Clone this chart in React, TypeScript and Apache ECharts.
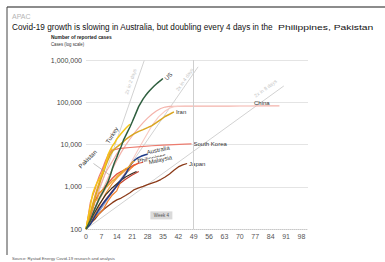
import React, { useEffect, useRef } from "react";
import * as echarts from "echarts";

const FONT = "'Liberation Sans', Arial, sans-serif";

const xTicks = [0, 7, 14, 21, 28, 35, 42, 49, 56, 63, 70, 77, 84, 91, 98];
const yTicks = [100, 1000, 10000, 100000, 1000000];

const usData = [[0,100],[2,160],[4,300],[6,520],[8,800],[10,1300],[11,1800],[12,2700],[13,3800],[14,5000],[15,6800],[16,9000],[17,12500],[18,16000],[19,20500],[20,26000],[21,34000],[22,45000],[23,60000],[24,80000],[25,98000],[26,120000],[27,142000],[28,165000],[29,190000],[30,215000],[31,242000],[32,270000],[33,300000],[34,330000],[35,366000]];
const iranData = [[0,100],[1,150],[2,230],[3,350],[4,520],[5,780],[6,1100],[7,1600],[8,2200],[9,3200],[10,4300],[11,5600],[12,6800],[13,7800],[14,8700],[16,10500],[18,13000],[20,15500],[22,18000],[24,20500],[26,22500],[28,25000],[30,28000],[32,33000],[34,39000],[36,46000],[38,52000],[40,59000]];
const turkeyData = [[0,98],[1,191],[2,359],[3,670],[4,947],[5,1236],[6,1529],[7,1872],[8,2433],[9,3629],[10,5698],[11,7402],[12,9217],[13,10827],[14,13531],[15,15679],[16,18135],[17,20921],[18,23934],[19,27069],[20,30217]];
const pakistanData = [[0,100],[1,187],[2,241],[3,299],[4,454],[5,501],[6,730],[7,776],[8,875],[9,972],[10,1063],[11,1201],[12,1373],[13,1495],[14,1717],[15,1938],[16,2118],[17,2421],[18,2686],[19,2818],[20,3157],[21,3766],[22,4035]];
const chinaData = [[0,100],[2,180],[4,320],[6,560],[8,950],[10,1600],[12,2600],[14,4200],[16,6500],[18,9500],[20,13500],[22,18500],[24,25000],[26,33000],[28,42000],[30,52000],[32,62000],[34,71000],[36,77000],[38,79500],[40,80500],[45,81000],[50,81100],[55,81200],[60,81300],[65,81400],[70,81500],[75,81600],[80,81800],[88,82000]];
const pinkData = [[0,100],[3,160],[6,260],[9,420],[12,700],[15,1200],[18,2200],[21,4200],[24,8000],[27,15000],[30,28000],[33,45000],[36,62000],[38,72000],[40,78000],[42,80000]];
const koreaData = [[0,100],[1,204],[2,433],[3,602],[4,833],[5,1261],[6,1766],[7,2337],[8,3150],[9,4300],[10,5600],[11,6600],[12,7300],[13,7500],[14,7800],[15,8000],[17,8200],[20,8500],[25,8950],[30,9330],[35,9660],[40,9980],[45,10240],[48,10330]];
const japanData = [[0,100],[2,135],[4,170],[6,230],[8,290],[10,350],[12,420],[14,490],[16,540],[18,620],[20,720],[22,860],[24,940],[26,1020],[28,1120],[30,1220],[32,1320],[34,1480],[36,1700],[38,2000],[40,2450],[42,2950],[44,3300],[46,3550]];
const australiaData = [[0,100],[2,130],[4,200],[6,300],[8,420],[10,560],[12,760],[14,1050],[16,1450],[18,2000],[19,2500],[20,3100],[21,3700],[22,4200],[23,4600],[24,4950],[25,5250],[26,5500],[27,5700],[28,5900]];
const philippinesData = [[0,100],[2,140],[4,190],[6,230],[8,300],[10,460],[12,640],[14,800],[16,1400],[18,2100],[20,2600],[22,3200],[24,3700]];
const malaysiaData = [[0,100],[2,200],[4,450],[6,700],[8,900],[10,1200],[12,1600],[14,2000],[16,2300],[18,2600],[20,2900],[22,3300],[24,3600],[26,3800]];
const other1Data = [[0,100],[3,200],[6,380],[9,650],[12,950],[15,1300],[18,1700],[21,2050],[23,2300]];
const other2Data = [[0,100],[3,180],[6,300],[9,500],[12,800],[15,1150],[18,1500],[21,1900],[24,2300]];
const other3Data = [[0,100],[3,170],[6,350],[9,700],[12,1200],[15,1800],[18,2500],[21,3000],[22,3300]];
const other4Data = [[0,100],[3,300],[6,900],[9,2200],[12,4000],[14,6000],[16,8500]];
const other5Data = [[0,100],[3,220],[6,480],[9,900],[12,1500],[14,1900],[16,2300]];
const other6Data = [[0,100],[3,160],[6,260],[9,450],[12,750],[15,1300],[18,2000],[20,2600]];
const other7Data = [[0,100],[2,250],[4,600],[6,1300],[8,2800],[10,5000],[12,8000]];

const double2Data = [[0,100],[26.5,974000]];
const double4Data = [[0,100],[51,690000]];
const double8Data = [[0,100],[90,243000]];

function tag(text: string, coord: number[], rotate: number, extra: any = {}) {
  return {
    coord,
    symbol: "circle",
    symbolSize: 1,
    itemStyle: { color: "rgba(0,0,0,0)" },
    label: {
      show: true,
      formatter: text,
      position: "inside",
      rotate,
      fontSize: 6,
      color: "#333",
      fontFamily: FONT,
      ...extra,
    },
  };
}

function line(name: string, data: number[][], color: string, width: number, extra: any = {}) {
  return {
    name,
    type: "line",
    data,
    symbol: "none",
    showSymbol: false,
    silent: true,
    lineStyle: { color, width },
    itemStyle: { color },
    ...extra,
  };
}

function endLabel(text: string) {
  return {
    endLabel: { show: true, formatter: text, fontSize: 6, color: "#333", fontFamily: FONT, distance: 2 },
  };
}

export default function App() {
  const ref = useRef<HTMLDivElement>(null);
  useEffect(() => {
    const chart = echarts.init(ref.current!, null, { renderer: "svg" });
    const refStyle = "#d2d2d2";
    const refLabel = { color: "#c4c4c4", fontSize: 5 };
    chart.setOption({
      animation: false,
      backgroundColor: "#fff",
      grid: { left: 86, right: 77, top: 60, bottom: 33 },
      xAxis: {
        type: "value",
        min: 0,
        max: 101,
        interval: 7,
        axisLine: { show: true, lineStyle: { color: "#c8c8c8", type: "dotted", width: 1 } },
        axisTick: { show: false },
        splitLine: { show: false },
        axisLabel: {
          fontSize: 7,
          color: "#555",
          fontFamily: FONT,
          margin: 4,
          formatter: (v: number) => (xTicks.includes(v) ? String(v) : ""),
        },
      },
      yAxis: {
        type: "log",
        logBase: 10,
        min: yTicks[0],
        max: yTicks[yTicks.length - 1],
        axisLine: { show: false },
        axisTick: { show: false },
        splitLine: { show: true, showMinLine: false, lineStyle: { color: "#e4e4e4", width: 1 } },
        axisLabel: {
          fontSize: 7,
          color: "#444",
          fontFamily: FONT,
          margin: 4,
          formatter: (v: number) => Number(v).toLocaleString("en-US"),
        },
      },
      graphic: [
        { type: "line", shape: { x1: 7, y1: 7, x2: 385, y2: 7 }, style: { stroke: "#666", lineWidth: 1.5 } },
        { type: "line", shape: { x1: 7, y1: 7, x2: 7, y2: 255 }, style: { stroke: "#444", lineWidth: 1 } },
        { type: "text", x: 12, y: 16, style: { text: "APAC", fontSize: 7, fill: "#b5b5b5", fontFamily: FONT, verticalAlign: "middle" } },
        { type: "text", x: 12, y: 27, scaleX: 0.865, style: { text: "Covid-19 growth is slowing in Australia, but doubling every 4 days in the", fontSize: 9.5, fill: "#111", fontFamily: FONT, verticalAlign: "middle" } },
        { type: "text", x: 278, y: 27.5, scaleX: 1.36, style: { text: "Philippines, Pakistan", fontSize: 7.6, fill: "#111", fontFamily: FONT, verticalAlign: "middle" } },
        { type: "text", x: 51, y: 37, scaleX: 0.82, style: { text: "Number of reported cases", fontSize: 6, fontWeight: "bold", fill: "#222", fontFamily: FONT, verticalAlign: "middle" } },
        { type: "text", x: 51, y: 44, scaleX: 0.78, style: { text: "Cases (log scale)", fontSize: 5.5, fill: "#333", fontFamily: FONT, verticalAlign: "middle" } },
        { type: "text", x: 12, y: 258, style: { text: "Source: Rystad Energy Covid-19 research and analysis", fontSize: 4.2, fill: "#555", fontFamily: FONT, verticalAlign: "middle" } },
      ],
      series: [
        line("2x in 2 days", double2Data, refStyle, 1, {
          markPoint: { silent: true, data: [tag("2x in 2 days", [20.2, 309000], 71, refLabel)] },
          markLine: {
            silent: true,
            symbol: "none",
            label: { show: false },
            lineStyle: { color: "#cfcfcf", type: "solid", width: 1 },
            data: [{ xAxis: 49 }],
          },
        }),
        line("2x in 4 days", double4Data, refStyle, 1, {
          markPoint: { silent: true, data: [tag("2x in 4 days", [44.8, 347000], 55, refLabel)] },
        }),
        line("2x in 8 days", double8Data, refStyle, 1, {
          markPoint: {
            silent: true,
            data: [
              tag("2x in 8 days", [81.6, 214000], 36, refLabel),
              {
                coord: [34.3, 210],
                symbol: "rect",
                symbolSize: [22, 8],
                itemStyle: { color: "#dadada" },
                label: { show: true, formatter: "Week 4", position: "inside", fontSize: 4.5, color: "#555", fontFamily: FONT },
              },
            ],
          },
        }),
        line("China", chinaData, "#f4b3ab", 1.2, {
          markPoint: { silent: true, data: [tag("China", [80, 82000], 0, { offset: [0, -3] })] },
        }),
        line("Other pink", pinkData, "#f8cbc4", 1.1),
        line("Other 4", other4Data, "#f5aaa3", 1.1),
        line("Other 5", other5Data, "#f8c6a6", 1.1),
        line("Other 6", other6Data, "#6f9bd8", 1.1),
        line("Other 2", other2Data, "#c4402f", 1.2),
        line("Other 3", other3Data, "#f39a3a", 1.2),
        line("Other 1", other1Data, "#3b2a1e", 1.2),
        line("Other 7", other7Data, "#f2b02a", 1.3),
        line("South Korea", koreaData, "#ec7b6e", 1.2, endLabel("South Korea")),
        line("Japan", japanData, "#8b3a18", 1.3, endLabel("Japan")),
        line("Philippines", philippinesData, "#f07f2a", 1.2, {
          markPoint: { silent: true, data: [tag("Philippines", [29.9, 4700], 12)] },
        }),
        line("Malaysia", malaysiaData, "#e5533d", 1.2, {
          markPoint: {
            silent: true,
            data: [tag("Malaysia", [33.8, 4350], 12, { backgroundColor: "#fff", padding: [0, 1] })],
          },
        }),
        line("Australia", australiaData, "#1f3c88", 1.5, {
          markPoint: { silent: true, data: [tag("Australia", [32.8, 7400], 12)] },
        }),
        line("Pakistan", pakistanData, "#eba52a", 1.3, {
          markPoint: { silent: true, data: [tag("Pakistan", [0.8, 4500], 45)] },
          markLine: {
            silent: true,
            symbol: "none",
            label: { show: false },
            lineStyle: { color: "#999", type: "solid", width: 0.6 },
            data: [[{ coord: [3.4, 3550] }, { coord: [11, 1860] }]],
          },
        }),
        line("Iran", iranData, "#d9a520", 1.5, endLabel("Iran")),
        line("Turkey", turkeyData, "#f5c518", 1.5, {
          markPoint: { silent: true, data: [tag("Turkey", [11.9, 16600], 58)] },
        }),
        line("US", usData, "#2f5f3f", 1.5, {
          markPoint: { silent: true, data: [tag("US", [37.5, 407000], 45)] },
        }),
      ],
    });
    return () => chart.dispose();
  }, []);
  return (
    <div
      ref={ref}
      style={{ position: "absolute", left: 0, top: 0, width: 385, height: 262, background: "#fff" }}
    />
  );
}
